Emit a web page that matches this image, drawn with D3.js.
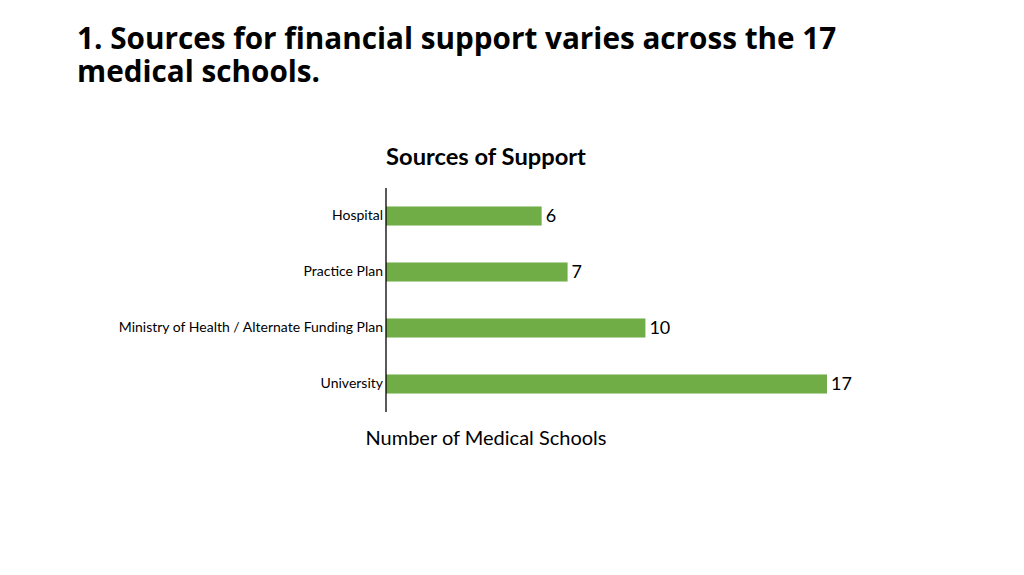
<!DOCTYPE html>
<html><head><meta charset="utf-8">
<script src="https://cdn.jsdelivr.net/npm/d3@7"></script>
<style>body{margin:0;background:#fff;}svg{display:block;}</style>
</head><body>
<script>
const categories = ["Hospital", "Practice Plan", "Ministry of Health / Alternate Funding Plan", "University"];
const values = [6, 7, 10, 17];
const pageTitle = ["1. Sources for financial support varies across the 17", "medical schools."];
const chartTitle = "Sources of Support";
const axisTitle = "Number of Medical Schools";

const W = 1024, H = 575;
const svg = d3.select("body").append("svg").attr("width", W).attr("height", H);

svg.append("text").attr("x", 77).attr("y", 0)
  .attr("font-family", "'Open Sans', sans-serif").attr("font-weight", 700).attr("font-size", 29.7).attr("fill", "#000")
  .selectAll("tspan").data(pageTitle).join("tspan")
  .attr("x", 77).attr("y", (d, i) => 49 + i * 33).text(d => d);

const x0 = 386, plotTop = 188, plotBottom = 412;
const x = d3.scaleLinear().domain([0, 17]).range([x0, 827]);
const y = d3.scaleBand().domain(categories).range([plotTop, plotBottom]).paddingInner(0.66).paddingOuter(0.33);

svg.append("text").attr("x", 486).attr("y", 165).attr("text-anchor", "middle")
  .attr("font-family", "Lato, Carlito, sans-serif").attr("font-weight", 700).attr("font-size", 23.7).text(chartTitle);

svg.append("g").selectAll("rect").data(values).join("rect")
  .attr("x", x(0)).attr("y", (d, i) => y(categories[i]))
  .attr("width", d => x(d) - x(0)).attr("height", y.bandwidth()).attr("fill", "#70AD47");

svg.append("g").selectAll("text").data(values).join("text")
  .attr("x", d => x(d) + 4).attr("y", (d, i) => y(categories[i]) + y.bandwidth() / 2)
  .attr("dy", "0.36em").attr("font-family", "Lato, Carlito, sans-serif").attr("font-size", 18).attr("fill", "#000")
  .text(d => d);

const yAxis = d3.axisLeft(y).tickSize(0).tickPadding(3);
const ga = svg.append("g").attr("transform", `translate(${x0},0)`).call(yAxis);
ga.select(".domain").attr("d", `M0,${plotTop}V${plotBottom}`).attr("stroke", "#000").attr("stroke-width", 1.3);
ga.selectAll("text").attr("font-family", "Lato, Carlito, sans-serif").attr("font-size", 14).attr("fill", "#000");

svg.append("text").attr("x", 486).attr("y", 445).attr("text-anchor", "middle")
  .attr("font-family", "Lato, Carlito, sans-serif").attr("font-size", 20).attr("fill", "#000").text(axisTitle);
</script>
</body></html>
